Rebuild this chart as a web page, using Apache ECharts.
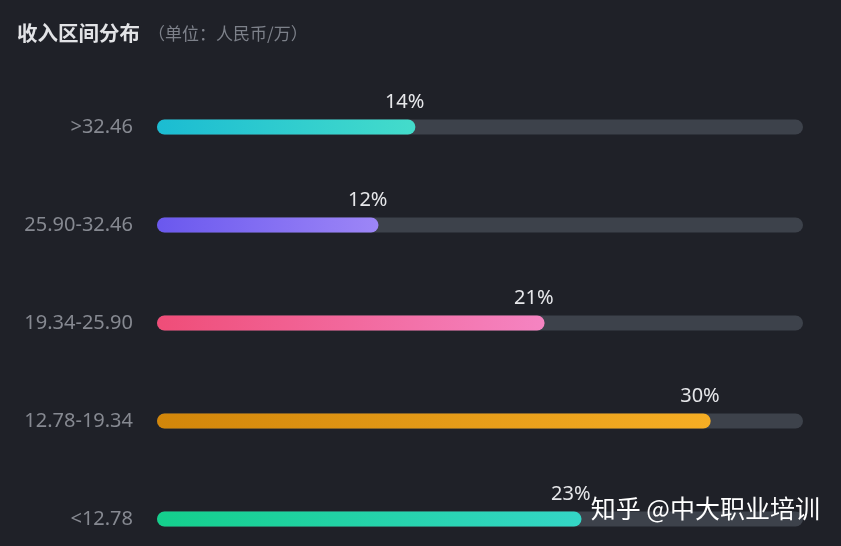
<!DOCTYPE html>
<html><head><meta charset="utf-8">
<script src="https://cdn.jsdelivr.net/npm/echarts@6/dist/echarts.min.js"></script>
<style>html,body{margin:0;padding:0;background:#1f2128;}#c{width:841px;height:546px;}</style>
</head><body><div id="c"></div>
<script>
const categories = ['>32.46', '25.90-32.46', '19.34-25.90', '12.78-19.34', '<12.78'];
const values = [14, 12, 21, 30, 23];
const maxValue = 35;
const colorStops = [
  ['#1bbcd2', '#44dccb'],
  ['#6a58ee', '#9d86f7'],
  ['#ef4d78', '#f584c2'],
  ['#d2860a', '#f6ae24'],
  ['#14cf8c', '#34d6c6']
];
const chart = echarts.init(document.getElementById('c'));
chart.setOption({
  backgroundColor: '#1f2128',
  animation: false,
  grid: {left: 157, right: 38, top: 127, bottom: 27, containLabel: false},
  xAxis: {type: 'value', min: 0, max: maxValue, show: false},
  yAxis: {
    type: 'category', data: categories, inverse: true, boundaryGap: false,
    axisLine: {show: false}, axisTick: {show: false}, splitLine: {show: false},
    axisLabel: {color: '#868991', fontSize: 20, margin: 24, fontFamily: 'Noto Sans'}
  },
  series: [
    {
      type: 'bar', barWidth: 15, barGap: '-100%', silent: true,
      data: categories.map(() => maxValue),
      itemStyle: {color: '#3d424b', borderRadius: 7.5},
      z: 1
    },
    {
      type: 'bar', barWidth: 15, z: 2,
      data: values.map((v, i) => ({
        value: v,
        itemStyle: {
          borderRadius: 7.5,
          color: new echarts.graphic.LinearGradient(0, 0, 1, 0, [
            {offset: 0, color: colorStops[i][0]},
            {offset: 1, color: colorStops[i][1]}
          ])
        }
      })),
      label: {
        show: true, position: 'insideRight', distance: 5, offset: [14, -25],
        formatter: '{c}%', color: '#e6e7ea', fontSize: 20, fontFamily: 'Noto Sans'
      }
    }
  ],
  graphic: [
    {
      type: 'text', left: 17, top: 23, z: 100,
      style: {
        text: '{t|收入区间分布}{s|（单位：人民币/万）}',
        rich: {
          t: {fill: '#e2e3e6', fontSize: 20.5, fontWeight: 'bold', fontFamily: 'Noto Sans CJK SC'},
          s: {fill: '#7d818a', fontSize: 17, fontFamily: 'Noto Sans CJK SC', padding: [0, 0, 0, 8]}
        }
      }
    },
    {
      type: 'text', right: 21, top: 496, z: 100,
      style: {text: '知乎 @中大职业培训', fill: '#ffffff', fontSize: 25, fontFamily: 'Noto Sans CJK SC'}
    }
  ]
});
</script></body></html>
